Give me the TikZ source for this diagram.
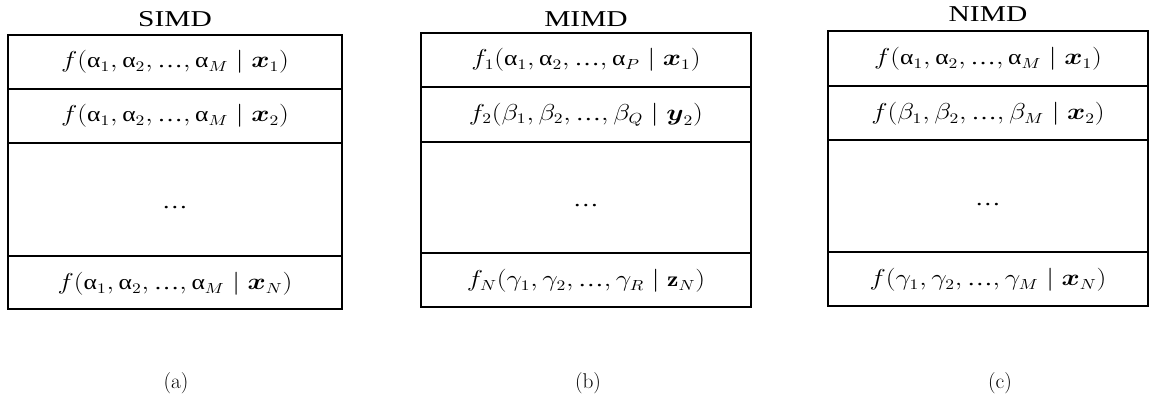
\documentclass[tikz,border=0pt]{standalone}
\usepackage{amsmath}
\usepackage{graphicx}
\usepackage{fontspec}
\newfontfamily\titlefont{Liberation Serif}
\newfontfamily\greekfont{Liberation Serif}
\newcommand\ua{\text{\greekfont α}}
\newcommand\el{\text{\greekfont …}}
\newcommand\widett[1]{\scalebox{1.3}[1]{#1}}
\newcommand\widemath[1]{\scalebox{1.2}[1]{#1}}
\begin{document}
\begin{tikzpicture}[x=0.75pt,y=-0.75pt,
  frame/.style={line width=1.6pt,black},
  ttl/.style={font=\titlefont\fontsize{17}{20}\selectfont,inner sep=0pt},
  cell/.style={font=\fontsize{16}{19}\selectfont,inner sep=0pt},
  dots/.style={font=\fontsize{16}{19}\selectfont,inner sep=0pt,anchor=base},
  subcap/.style={font=\fontsize{16}{19}\selectfont,inner sep=0pt}]
\useasboundingbox (0,0) rectangle (1161,401);
% (a) SIMD
\draw[frame] (8,35) rectangle (342,309);
\draw[frame] (8,89) -- (342,89) (8,143) -- (342,143) (8,256) -- (342,256);
\node[ttl] (ta) at (175,19) {\widett{SIMD}};
\node[cell] (a1) at (175,62) {\widemath{$f(\ua_1,\ua_2,\el,\ua_M\mid\boldsymbol{x}_1)$}};
\node[cell] (a2) at (175,116) {\widemath{$f(\ua_1,\ua_2,\el,\ua_M\mid\boldsymbol{x}_2)$}};
\node[dots] (a3) at (175,208) {\widemath{\greekfont …}};
\node[cell] (a4) at (175,284) {\widemath{$f(\ua_1,\ua_2,\el,\ua_M\mid\boldsymbol{x}_N)$}};
\node[subcap] (ca) at (176,383) {(a)};
% (b) MIMD
\draw[frame] (421,33) rectangle (751,307);
\draw[frame] (421,87) -- (751,87) (421,142) -- (751,142) (421,253) -- (751,253);
\node[ttl] (tb) at (586,19) {\widett{MIMD}};
\node[cell] (b1) at (586,60) {\widemath{$f_1(\ua_1,\ua_2,\el,\ua_P\mid\boldsymbol{x}_1)$}};
\node[cell] (b2) at (586,115) {\widemath{$f_2(\beta_1,\beta_2,\el,\beta_Q\mid\boldsymbol{y}_2)$}};
\node[dots] (b3) at (586,206) {\widemath{\greekfont …}};
\node[cell] (b4) at (586,281) {\widemath{$f_N(\gamma_1,\gamma_2,\el,\gamma_R\mid\mathbf{z}_N)$}};
\node[subcap] (cb) at (588,383) {(b)};
% (c) NIMD
\draw[frame] (828,31) rectangle (1148,306);
\draw[frame] (828,86) -- (1148,86) (828,140) -- (1148,140) (828,252) -- (1148,252);
\node[ttl] (tc) at (988,14) {\widett{NIMD}};
\node[cell] (c1) at (988,59) {\widemath{$f(\ua_1,\ua_2,\el,\ua_M\mid\boldsymbol{x}_1)$}};
\node[cell] (c2) at (988,114) {\widemath{$f(\beta_1,\beta_2,\el,\beta_M\mid\boldsymbol{x}_2)$}};
\node[dots] (c3) at (988,205) {\widemath{\greekfont …}};
\node[cell] (c4) at (988,280) {\widemath{$f(\gamma_1,\gamma_2,\el,\gamma_M\mid\boldsymbol{x}_N)$}};
\node[subcap] (cc) at (1000,383) {(c)};
\end{tikzpicture}
\end{document}
